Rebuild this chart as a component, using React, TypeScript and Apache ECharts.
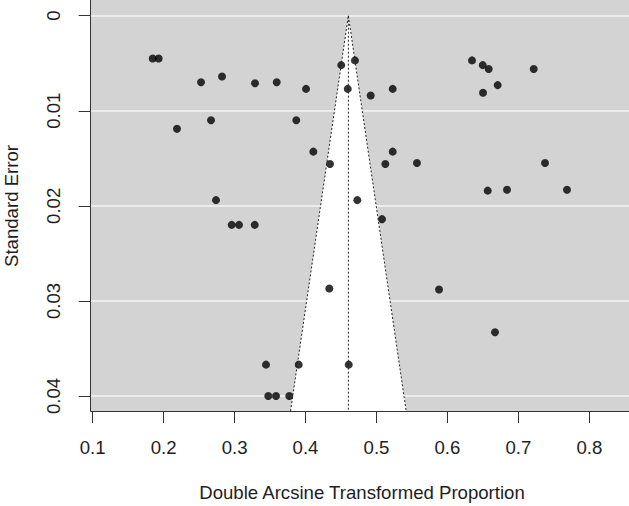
import React, { useEffect, useRef } from "react";
import * as echarts from "echarts";

// Study-level values (double arcsine transformed proportion, standard error)
const proportion = [
  0.1846, 0.193, 0.2527, 0.2823, 0.3288, 0.3594, 0.4007, 0.4504, 0.4697, 0.4595,
  0.4919, 0.5229, 0.6347, 0.6498, 0.6582, 0.7217, 0.6709, 0.6502, 0.2188, 0.2668,
  0.387, 0.411, 0.4345, 0.5229, 0.5125, 0.5571, 0.7376, 0.6568, 0.684, 0.7686,
  0.2738, 0.473, 0.5078, 0.2959, 0.3062, 0.3284, 0.4335, 0.5882, 0.6671, 0.3443,
  0.3904, 0.4609, 0.3475, 0.3584, 0.3771,
];
const standardError = [
  0.0045, 0.0045, 0.007, 0.0064, 0.0071, 0.007, 0.0077, 0.0052, 0.0047, 0.0077,
  0.0084, 0.0077, 0.0047, 0.0052, 0.0056, 0.0056, 0.0073, 0.0081, 0.0119, 0.011,
  0.011, 0.0143, 0.0156, 0.0143, 0.0156, 0.0155, 0.0155, 0.0184, 0.0183, 0.0183,
  0.0194, 0.0194, 0.0214, 0.022, 0.022, 0.022, 0.0287, 0.0288, 0.0333, 0.0367,
  0.0367, 0.0367, 0.04, 0.04, 0.04,
];

const pooledEstimate = 0.4604;
const critZ = 1.96;
const xTicks = [0.1, 0.2, 0.3, 0.4, 0.5, 0.6, 0.7, 0.8];
const yTicks = [0, 0.01, 0.02, 0.03, 0.04];
const xLimits = [0.09718, 0.856];
const seLimits = [-0.00165, 0.041576];

const FONT = '"Liberation Sans", Arial, sans-serif';
const TXT = "#1e1e1e";
const FS = 18.6;

export default function App() {
  const ref = useRef<HTMLDivElement>(null);

  useEffect(() => {
    if (!ref.current) return;
    const chart = echarts.init(ref.current, undefined, { renderer: "svg" });
    const seMax = seLimits[1];
    const funnelPts = [
      [pooledEstimate - critZ * seMax, seMax],
      [pooledEstimate, 0],
      [pooledEstimate + critZ * seMax, seMax],
    ];
    const dotted = {
      color: "#222",
      width: 1,
      type: [2, 2] as any,
    };
    const option: any = {
      animation: false,
      grid: [
        { left: 90.7, top: 0, width: 538.3, height: 411, show: true, backgroundColor: "#d3d3d3", borderWidth: 0 },
        { left: 92.7, top: 0, width: 496.6, height: 411 },
        { left: 90.7, top: 15.7, width: 538.3, height: 380.3 },
      ],
      xAxis: [
        {
          gridIndex: 0,
          type: "value",
          min: xLimits[0],
          max: xLimits[1],
          axisLine: { show: true, onZero: false, lineStyle: { color: "#333", width: 1 } },
          axisTick: { show: false },
          axisLabel: { show: false },
          splitLine: { show: false },
        },
        {
          gridIndex: 1,
          type: "value",
          min: xTicks[0],
          max: xTicks[xTicks.length - 1],
          interval: 0.1,
          axisLine: { show: false, onZero: false },
          axisTick: { show: true, length: 12, lineStyle: { color: "#333", width: 1 } },
          axisLabel: {
            margin: 27,
            fontSize: FS,
            fontFamily: FONT,
            color: TXT,
            showMinLabel: true,
            showMaxLabel: true,
          },
          splitLine: { show: false },
        },
        { gridIndex: 2, type: "value", show: false, min: 0, max: 1 },
      ],
      yAxis: [
        {
          gridIndex: 0,
          type: "value",
          inverse: true,
          min: seLimits[0],
          max: seLimits[1],
          axisLine: { show: true, onZero: false, lineStyle: { color: "#333", width: 1 } },
          axisTick: { show: false },
          axisLabel: { show: false },
          splitLine: { show: false },
        },
        { gridIndex: 1, type: "value", show: false, min: 0, max: 1 },
        {
          gridIndex: 2,
          type: "value",
          inverse: true,
          min: yTicks[0],
          max: yTicks[yTicks.length - 1],
          interval: 0.01,
          axisLine: { show: false, onZero: false },
          axisTick: { show: true, length: 12, lineStyle: { color: "#333", width: 1 } },
          axisLabel: {
            rotate: 90,
            margin: 28,
            fontSize: FS,
            fontFamily: FONT,
            color: TXT,
            showMinLabel: true,
            showMaxLabel: true,
          },
          splitLine: { show: true, lineStyle: { color: "#f4f4f4", width: 1.5 } },
        },
      ],
      series: [
        {
          type: "custom",
          xAxisIndex: 0,
          yAxisIndex: 0,
          data: funnelPts,
          encode: { x: 0, y: 1 },
          silent: true,
          renderItem: (params: any, api: any) => {
            if (params.dataIndex !== 0) return null;
            const pts = funnelPts.map((p) => api.coord(p));
            return { type: "polygon", shape: { points: pts }, style: { fill: "#ffffff" } };
          },
        },
        {
          type: "line",
          xAxisIndex: 0,
          yAxisIndex: 0,
          data: [funnelPts[0], funnelPts[1], funnelPts[2]],
          symbol: "none",
          silent: true,
          lineStyle: dotted,
        },
        {
          type: "line",
          xAxisIndex: 0,
          yAxisIndex: 0,
          data: [
            [pooledEstimate, 0],
            [pooledEstimate, seMax],
          ],
          symbol: "none",
          silent: true,
          lineStyle: dotted,
        },
        {
          type: "scatter",
          xAxisIndex: 0,
          yAxisIndex: 0,
          data: proportion.map((x, i) => [x, standardError[i]]),
          symbol: "circle",
          symbolSize: 8,
          itemStyle: { color: "#000" },
        },
      ],
      graphic: [
        {
          type: "text",
          x: 362,
          y: 492,
          style: {
            text: "Double Arcsine Transformed Proportion",
            font: `${FS}px ${FONT}`,
            fill: TXT,
            align: "center",
            verticalAlign: "middle",
          },
        },
        {
          type: "text",
          x: 11,
          y: 206,
          rotation: Math.PI / 2,
          style: {
            text: "Standard Error",
            font: `${FS}px ${FONT}`,
            fill: TXT,
            align: "center",
            verticalAlign: "middle",
          },
        },
      ],
    };
    chart.setOption(option);
    return () => chart.dispose();
  }, []);

  return (
    <div
      ref={ref}
      style={{ position: "absolute", left: 0, top: 0, width: 629, height: 506 }}
    />
  );
}
